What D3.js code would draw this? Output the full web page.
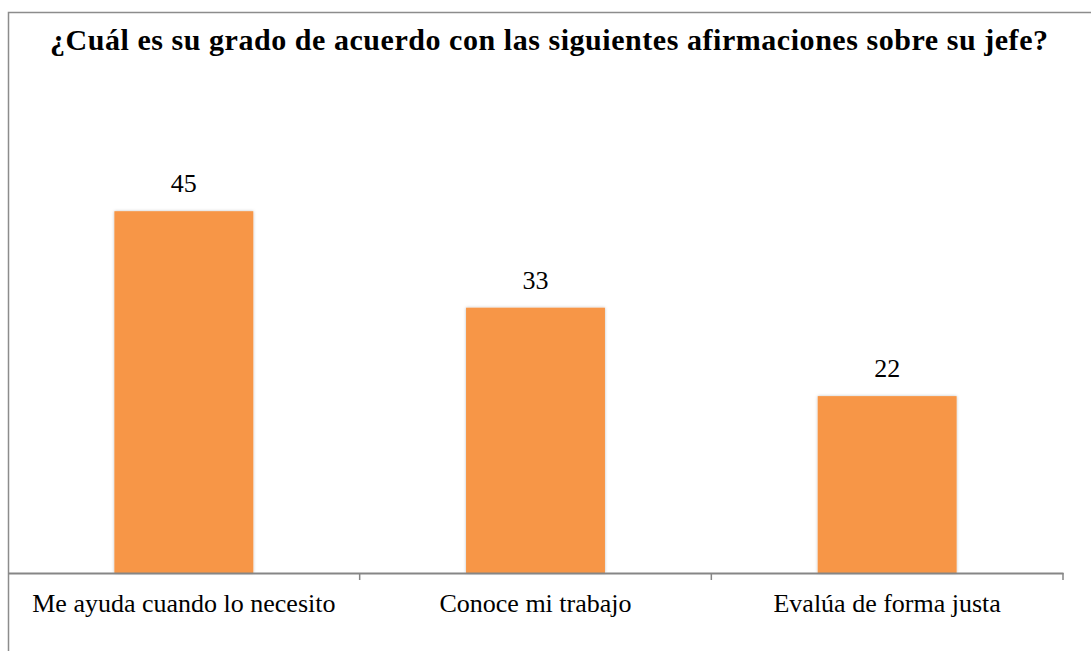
<!DOCTYPE html>
<html>
<head>
<meta charset="utf-8">
<script src="https://cdn.jsdelivr.net/npm/d3@7"></script>
<style>
  body { margin: 0; background: #fff; }
</style>
</head>
<body>
<script>
// chart data
var categories = ["Me ayuda cuando lo necesito", "Conoce mi trabajo", "Evalúa de forma justa"];
var values = [45, 33, 22];
var title = "¿Cuál es su grado de acuerdo con las siguientes afirmaciones sobre su jefe?";

var W = 1091, H = 651;
var x0 = 8, x1 = 1063, yBase = 573;
var serif = "'Liberation Serif', 'Times New Roman', serif";

var svg = d3.select("body").append("svg")
    .attr("width", W)
    .attr("height", H);

var defs = svg.append("defs");
var f = defs.append("filter").attr("id", "shadow")
    .attr("x", "-10%").attr("y", "-10%").attr("width", "120%").attr("height", "120%");
f.append("feDropShadow").attr("dx", 0).attr("dy", 0).attr("stdDeviation", 1.5)
    .attr("flood-color", "#000").attr("flood-opacity", 0.25);

// outer border (top and left visible)
svg.append("path")
    .attr("d", "M8.5," + H + "V12.5H" + W)
    .attr("fill", "none")
    .attr("stroke", "#8c8c8c")
    .attr("stroke-width", 1.5);

svg.append("text")
    .attr("x", 549)
    .attr("y", 50)
    .attr("text-anchor", "middle")
    .attr("textLength", 998)
    .attr("lengthAdjust", "spacing")
    .style("font-family", serif)
    .style("font-size", "30px")
    .style("font-weight", "bold")
    .attr("fill", "#000")
    .text(title);

var x = d3.scaleBand()
    .domain(categories)
    .range([x0, x1])
    .paddingInner(0)
    .paddingOuter(0);

var y = d3.scaleLinear()
    .domain([0, 50])
    .range([yBase, yBase - 50 * 8.04]);

var barW = x.bandwidth() * 0.395;

svg.append("g")
    .selectAll("rect")
    .data(values)
    .enter()
    .append("rect")
    .attr("x", function(d, i) { return x(categories[i]) + x.bandwidth() / 2 - barW / 2; })
    .attr("y", function(d) { return y(d); })
    .attr("width", barW)
    .attr("height", function(d) { return yBase - y(d); })
    .attr("fill", "#F79646")
    .attr("filter", "url(#shadow)");

svg.append("g")
    .selectAll("text")
    .data(values)
    .enter()
    .append("text")
    .attr("x", function(d, i) { return x(categories[i]) + x.bandwidth() / 2; })
    .attr("y", function(d) { return y(d) - 19; })
    .attr("text-anchor", "middle")
    .style("font-family", serif)
    .style("font-size", "26px")
    .attr("fill", "#000")
    .text(function(d) { return d; });

// x axis
var xAxis = d3.axisBottom(x).tickSize(0).tickSizeOuter(0);
var gx = svg.append("g")
    .attr("transform", "translate(0," + yBase + ")")
    .call(xAxis);
gx.select(".domain").attr("stroke", "#868686").attr("stroke-width", 2);
gx.selectAll(".tick text")
    .attr("dy", null)
    .attr("y", 39)
    .style("font-size", "26px")
    .style("font-family", serif)
    .attr("fill", "#000");

// category boundary ticks
var bounds = categories.slice(1).map(function(c) { return x(c); }).concat([x1]);
gx.selectAll(".bound")
    .data(bounds)
    .enter()
    .append("line")
    .attr("x1", function(d) { return d; })
    .attr("x2", function(d) { return d; })
    .attr("y1", 0)
    .attr("y2", 7)
    .attr("stroke", "#868686")
    .attr("stroke-width", 1.5);
</script>
</body>
</html>
